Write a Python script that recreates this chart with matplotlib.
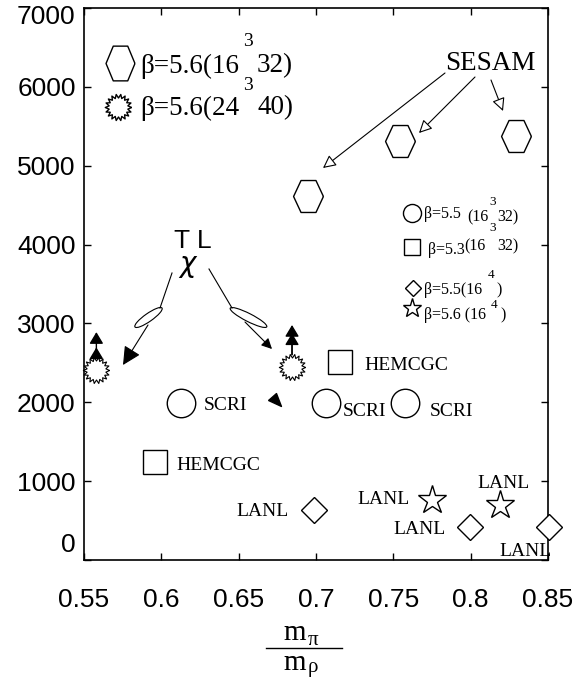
import numpy as np
import matplotlib
matplotlib.use("Agg")
import matplotlib.pyplot as plt
from matplotlib.patches import Ellipse
from matplotlib.lines import Line2D
from matplotlib.transforms import IdentityTransform, ScaledTranslation

# --- data ---
sesam_x = [0.695, 0.754, 0.829]          # beta=5.6 (16^3 32)
sesam_y = [4610, 5310, 5375]
burst_x = [0.558, 0.6845]                # beta=5.6 (24^3 40)
burst_y = [2410, 2445]
burst_bound = [2890, 2980]               # lower-bound arrows above the bursts
scri_x = [0.6127, 0.7065, 0.7575]        # beta=5.5 (16^3 32)
scri_y = [1990, 1990, 1990]
hemcgc_x = [0.7155, 0.596]               # beta=5.3 (16^3 32)
hemcgc_y = [2510, 1245]
lanl_d_x = [0.6987, 0.7996, 0.8507]      # beta=5.5 (16^4)
lanl_d_y = [634, 418, 418]
lanl_s_x = [0.775, 0.819]                # beta=5.6 (16^4)
lanl_s_y = [760, 697]

xticks = [0.55, 0.6, 0.65, 0.7, 0.75, 0.8, 0.85]
xticklabels = ['0.55', '0.6', '0.65', '0.7', '0.75', '0.8', '0.85']
yticks = [0, 1000, 2000, 3000, 4000, 5000, 6000, 7000]

SERIF = 'Liberation Serif'
SANS = 'Liberation Sans'

# marker shapes
hex_verts = [(1, 0), (0.5, 1.07), (-0.5, 1.07), (-1, 0), (-0.5, -1.07), (0.5, -1.07), (1, 0)]
hex_key = [(1, 0), (0.5, 1.2), (-0.5, 1.2), (-1, 0), (-0.5, -1.2), (0.5, -1.2), (1, 0)]
n = 18
ang = np.linspace(0, 2 * np.pi, 2 * n, endpoint=False)
rad = np.where(np.arange(2 * n) % 2 == 0, 1.0, 0.72)
burst_verts = np.column_stack([rad * np.cos(ang), rad * np.sin(ang)])
burst_verts = np.vstack([burst_verts, burst_verts[:1]])
head_verts = [(-7, 0), (1, 7), (6, -6), (-7, 0)]

fig = plt.figure(figsize=(5.85, 6.78), dpi=100)
W, H = 585, 678
ax = fig.add_axes([84 / W, (H - 560) / H, 464 / W, 552 / H])
ax.set_xlim(0.55, 0.85)
ax.set_ylim(0, 7000)


def apos(px, py):
    # pixel position in the picture -> axes fraction
    return ((px - 84) / 464, (560 - py) / 552)


open_kw = dict(mfc='white', mec='black', mew=1.0, ls='none', clip_on=False, zorder=3)
ax.plot(sesam_x, sesam_y, marker=hex_verts, ms=23, **open_kw)
ax.plot(burst_x, burst_y, marker=burst_verts, ms=19, mew=0.8, mfc='white', mec='black',
        ls='none', clip_on=False, zorder=3)
ax.plot(scri_x, scri_y, marker='o', ms=20.5, **open_kw)
ax.plot(hemcgc_x, hemcgc_y, marker='s', ms=17, **open_kw)
ax.plot(lanl_d_x, lanl_d_y, marker='D', ms=13.5, **open_kw)
ax.plot(lanl_s_x, lanl_s_y, marker='*', ms=21, **open_kw)

# lower-bound arrows on the 24^3 40 points (double heads)
heads = [11, 6]
for x, y, top, gap in zip(burst_x, burst_y, burst_bound, heads):
    for sb in (0, gap):
        ax.annotate('', xy=(x, top), xytext=(x, y),
                    arrowprops=dict(arrowstyle='-|>,head_length=0.5,head_width=0.3',
                                    color='black', lw=1.0, mutation_scale=14,
                                    shrinkA=9, shrinkB=sb), zorder=4)

# stray arrow head
ax.plot([0.6735], [2029], marker=head_verts, ms=10, color='black', ls='none')

# --- point labels ---
lab_kw = dict(transform=ax.transAxes, fontfamily=SERIF, fontsize=14, va='center', ha='left')
for s, px, py in [('SCRI', 204, 405), ('SCRI', 343, 412), ('SCRI', 430, 412),
                  ('HEMCGC', 176, 465), ('HEMCGC', 364, 366),
                  ('LANL', 236, 512), ('LANL', 357, 500), ('LANL', 393, 530),
                  ('LANL', 477, 484), ('LANL', 499, 552)]:
    ax.text(*apos(px, py), s, **lab_kw)

# SESAM with open arrows
ax.text(*apos(445, 64), 'SESAM', transform=ax.transAxes, fontfamily=SERIF,
        fontsize=19.5, va='center', ha='left')
for (x0, y0), (x1, y1) in [((445, 73), (323, 168)), ((475, 77), (419, 133)),
                           ((491, 80), (503, 111))]:
    ax.annotate('', xy=apos(x1, y1), xytext=apos(x0, y0),
                xycoords='axes fraction', textcoords='axes fraction',
                arrowprops=dict(arrowstyle='-|>,head_length=0.6,head_width=0.3',
                                fc='white', ec='black', lw=0.8, mutation_scale=13,
                                shrinkA=0, shrinkB=0))

# chi T_L label with looped arrows
ax.text(*apos(174, 241), 'T L', transform=ax.transAxes, fontfamily=SANS,
        fontsize=19, va='center', ha='left')
ax.text(*apos(188, 266), r'$\chi$', transform=ax.transAxes,
        fontsize=20, va='center', ha='center')

for seg1, loop, seg2, hs in [
        (((172, 273), (160, 308)), ((148.5, 317.5), 33, 8, 35), ((148, 325), (123, 365)), 16),
        (((209, 269), (232, 308)), ((248.5, 317.5), 41, 8, -27), ((245, 322), (272, 349)), 9)]:
    (a, b) = seg1
    ax.plot([apos(*a)[0], apos(*b)[0]], [apos(*a)[1], apos(*b)[1]],
            transform=ax.transAxes, color='black', lw=0.8)
    (c, w, h, angle) = loop
    cx, cy = ax.transAxes.transform(apos(*c))
    ax.add_patch(Ellipse((cx, cy), w, h, angle=angle, fill=False, ec='black', lw=0.8,
                         transform=IdentityTransform()))
    (a, b) = seg2
    ax.annotate('', xy=apos(*b), xytext=apos(*a),
                xycoords='axes fraction', textcoords='axes fraction',
                arrowprops=dict(arrowstyle='-|>,head_length=0.7,head_width=0.35',
                                color='black', lw=0.8, mutation_scale=hs,
                                shrinkA=0, shrinkB=0))

# --- upper-left key ---
key_kw = dict(transform=ax.transAxes, mfc='white', mec='black', mew=1.0, ls='none',
              clip_on=False)
ax.plot(*apos(120, 63), marker=hex_key, ms=25, **key_kw)
ax.plot(*apos(118, 107), marker=burst_verts, ms=19, **key_kw)
big = dict(transform=ax.transAxes, fontfamily=SERIF, fontsize=19.5, va='center', ha='left')
sup = dict(transform=ax.transAxes, fontfamily=SERIF, fontsize=14, va='center', ha='center')
ax.text(*apos(140, 66), 'β=5.6(16', **big)
ax.text(*apos(248, 42), '3', **sup)
ax.text(*apos(257, 66), '32)', **big)
ax.text(*apos(140, 108), 'β=5.6(24', **big)
ax.text(*apos(248, 85), '3', **sup)
ax.text(*apos(257, 108), '40)', **big)

# --- right key ---
small = dict(transform=ax.transAxes, fontfamily=SERIF, fontsize=11.5, va='center', ha='left')
ssup = dict(transform=ax.transAxes, fontfamily=SERIF, fontsize=9.5, va='center', ha='center')
ax.plot(*apos(412, 213), marker='o', ms=13, **key_kw)
ax.text(*apos(424, 214), 'β=5.5', **small)
ax.text(*apos(467, 217), '(16', **small)
ax.text(*apos(493, 202), '3', **ssup)
ax.text(*apos(497, 217), '32)', **small)

ax.plot(*apos(412, 247), marker='s', ms=11, **key_kw)
ax.text(*apos(428, 250), 'β=5.3', **small)
ax.text(*apos(464, 246), '(16', **small)
ax.text(*apos(493, 228), '3', **ssup)
ax.text(*apos(497, 246), '32)', **small)

ax.plot(*apos(413, 288), marker='D', ms=8, **key_kw)
ax.text(*apos(424, 290), 'β=5.5(16', **small)
ax.text(*apos(491, 275), '4', **ssup)
ax.text(*apos(496, 290), ')', **small)

ax.plot(*apos(412, 308), marker='*', ms=14, **key_kw)
ax.text(*apos(424, 315), 'β=5.6 (16', **small)
ax.text(*apos(494, 305), '4', **ssup)
ax.text(*apos(500, 315), ')', **small)

# --- axes styling ---
ax.set_xticks(xticks)
ax.set_xticklabels(xticklabels)
ax.set_yticks(yticks)
ax.tick_params(direction='in', length=5, width=1, top=True, right=True,
               labelsize=19)
ax.tick_params(axis='x', pad=20)
ax.tick_params(axis='y', pad=6)
for lab in ax.get_xticklabels() + ax.get_yticklabels():
    lab.set_fontfamily(SANS)
for sp in ax.spines.values():
    sp.set_linewidth(1.2)
ylabs = ax.get_yticklabels()
ylabs[0].set_transform(ylabs[0].get_transform() + ScaledTranslation(0, 0.18, fig.dpi_scale_trans))
ylabs[-1].set_transform(ylabs[-1].get_transform() + ScaledTranslation(0, -0.06, fig.dpi_scale_trans))

# x label: m_pi / m_rho as a hand-set fraction
fig.text(295 / W, (H - 640) / H, 'm', fontfamily=SERIF, fontsize=21, ha='center', va='baseline')
fig.text(313 / W, (H - 645) / H, 'π', fontfamily=SERIF, fontsize=15, ha='center', va='baseline')
fig.add_artist(Line2D([266 / W, 342 / W], [(H - 648) / H, (H - 648) / H], color='black', lw=1.0))
fig.text(295 / W, (H - 670) / H, 'm', fontfamily=SERIF, fontsize=21, ha='center', va='baseline')
fig.text(313 / W, (H - 672) / H, 'ρ', fontfamily=SERIF, fontsize=15, ha='center', va='baseline')

fig.savefig('out.png', dpi=100)
